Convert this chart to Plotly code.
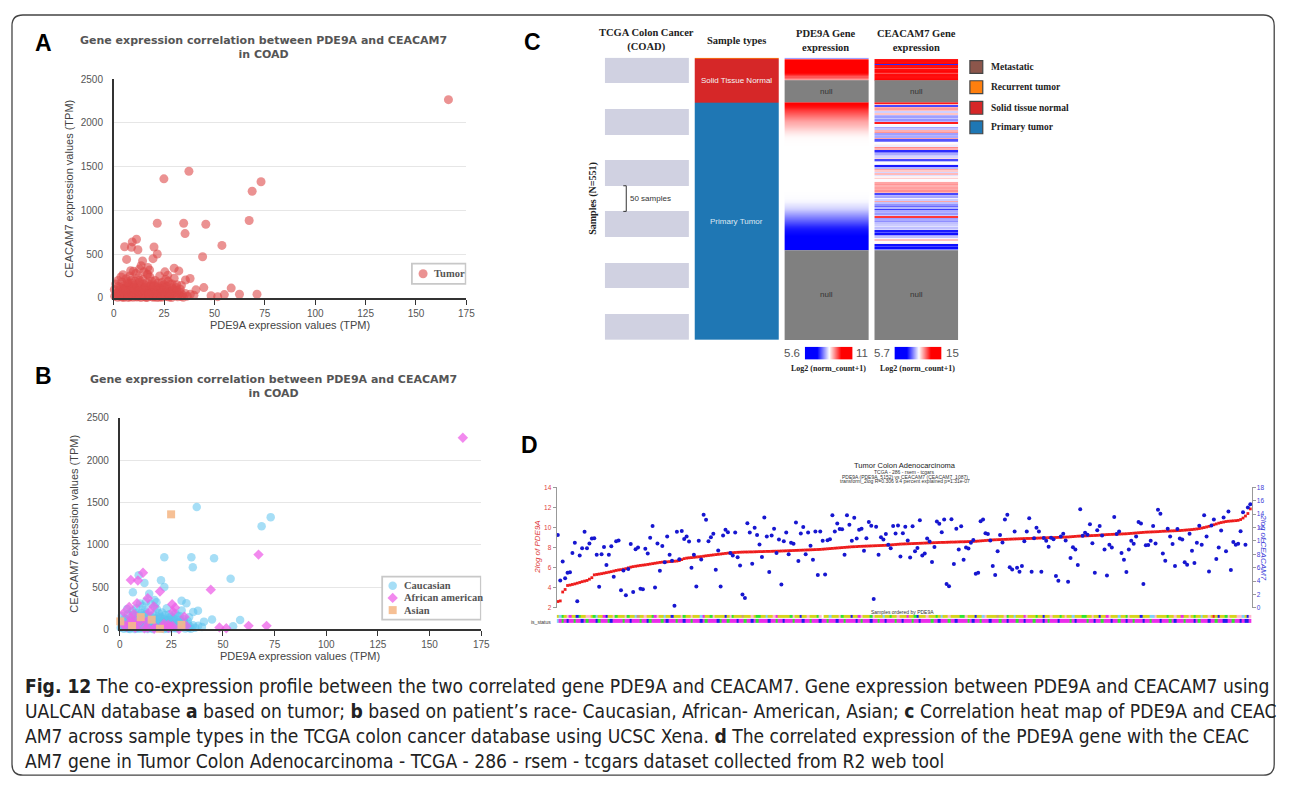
import plotly.graph_objects as go

# page size and the default 8px body margin of the html page
W, H = 1292, 789
OFF = 8
FW, FH = W - 2 * OFF, H - 2 * OFF
SANS = "Liberation Sans, Arial, Helvetica, sans-serif"
SERIF = "Liberation Serif, Times New Roman, serif"
VERD = "DejaVu Sans, Verdana, sans-serif"
CAPF = "DejaVu Sans Condensed, Open Sans, sans-serif"

# ============================ DATA ============================
# Panels A & B : UALCAN TCGA-COAD tumour samples (TPM)
pde9a_tpm = [
    166.1, 24.9, 37.3, 73.1, 68.7, 67.2, 21.6, 34.7, 45.7, 35.4,
    53.7, 44.1, 11.3, 9.2, 5.4, 8.8, 12.0, 20.0, 21.6, 19.5,
    6.4, 14.3, 13.6, 12.8, 16.9, 8.4, 9.8, 4.6, 25.4, 30.0,
    32.3, 26.8, 16.5, 30.0, 35.6, 37.9, 16.9, 44.7, 58.3, 62.4,
    71.1, 48.3, 51.6, 54.9, 40.8, 39.8, 33.6, 31.3,
    0.5, 1.2, 2.0, 2.8, 3.5, 4.1, 4.8, 5.5, 6.0, 6.7,
    7.3, 7.9, 8.5, 9.0, 9.6, 10.2, 10.8, 11.4, 12.0, 12.6,
    13.2, 13.8, 14.4, 15.0, 15.5, 16.1, 16.7, 17.3, 17.9, 18.5,
    19.1, 19.5, 20.3, 20.9, 21.5, 22.1, 22.7, 23.3, 23.9, 24.5,
    25.1, 25.7, 26.3, 26.9, 27.5, 28.1, 28.7, 29.3, 29.9, 30.5,
    31.1, 31.7, 32.3, 32.9, 33.5, 34.1, 0.3, 1.0, 1.8, 2.5,
    3.2, 3.9, 4.5, 5.1, 5.8, 6.4, 7.0, 7.6, 8.2, 8.8,
    9.4, 10.0, 10.6, 11.2, 11.8, 12.4, 13.0, 13.6, 14.2, 14.8,
    15.4, 16.0, 16.6, 17.2, 17.8, 18.4, 19.0, 19.6, 20.2, 20.8,
    21.4, 22.0, 22.6, 23.2, 23.8, 24.4, 25.0, 25.6, 26.2, 26.8,
    27.4, 28.0, 28.6, 29.2, 30.2, 31.5, 33.0, 34.5, 35.5, 36.5,
    38.0, 5.0, 7.5, 9.5, 11.5, 13.5, 15.5, 17.5, 19.5, 21.5,
    23.5, 2.2, 6.2, 8.0, 10.5, 12.2, 14.5, 18.0, 20.5, 24.0,
    27.0, 15.0, 17.8, 11.0, 22.8, 4.0,
    1.5, 3.0, 4.4, 5.9, 7.1, 8.6, 10.1, 11.6, 13.1, 14.6,
    16.1, 17.6, 19.1, 20.6, 22.1, 23.6, 25.1, 26.6, 28.1, 29.6,
    2.4, 4.9, 7.4, 9.9, 12.4, 14.9, 17.4, 19.9, 22.4, 24.9,
    27.4, 31.0, 6.8, 9.3, 12.9, 16.4, 19.8, 3.6, 25.8, 29.0,
]
ceacam7_tpm = [
    2265, 1360, 1447, 1327, 1218, 884, 853, 853, 841, 735,
    600, 470, 670, 640, 584, 578, 550, 582, 502, 448,
    440, 422, 368, 330, 348, 310, 305, 265, 298, 340,
    308, 258, 272, 225, 205, 222, 268, 118, 112, 42,
    42, 24, 14, 38, 92, 30, 143, 150,
    20, 45, 8, 90, 30, 62, 15, 110, 40, 75,
    5, 130, 55, 22, 95, 145, 35, 68, 12, 180,
    48, 88, 25, 120, 115, 60, 8, 100, 40, 150,
    18, 8, 72, 30, 125, 50, 10, 85, 140, 35,
    62, 15, 100, 45, 20, 78, 5, 55, 54, 28,
    90, 12, 40, 65, 18, 35, 95, 160, 55, 25,
    120, 10, 70, 140, 25, 170, 48, 95, 15, 200,
    60, 30, 110, 10, 85, 42, 135, 20, 70, 160,
    38, 5, 90, 28, 130, 58, 190, 45, 12, 100,
    65, 170, 28, 110, 8, 75, 150, 40, 130, 70,
    10, 160, 38, 115, 80, 60, 100, 8, 50, 20,
    42, 5, 18, 8, 40, 5, 15, 75, 95, 5,
    55, 200, 220, 250, 190, 230, 210, 240, 200, 180,
    190, 300, 320, 280, 250, 180,
    60, 35, 105, 80, 28, 112, 70, 125, 95, 50,
    140, 22, 62, 38, 92, 20, 118, 58, 30, 95,
    130, 88, 160, 118, 75, 92, 45, 150, 108, 85,
    48, 120, 185, 165, 200, 175, 130, 240, 210, 160,
]
# C = Caucasian, A = African american, S = Asian
race_code = list(
    "ASCCCACCCC" "CAACAACCCA" "CCACCACAAC" "CAACCCCCCA" "AAACCCCA"
    "CCCCACCCSC" "CCACCSCCAC" "CCCCSCACCC" "CSCACCCCCA" "CCCCCCACSC"
    "CCACCCSCAC" "CCCACCCACC" "CCACCCCACC" "CCCACCCCCC" "ACCCCCCACC"
    "CCCCCCCCCC" "CCACCCCCCC" "AACCCCACCC" "CCCCCC"
    "CCCACCCCAC" "CCCCCACCCC" "CACCCCCCCC" "CCACCCCCAC"
)
race_order = ["C", "A", "S"]
race_labels = {"C": "Caucasian", "A": "African american", "S": "Asian"}
tick_x_ab = [0, 25, 50, 75, 100, 125, 150, 175]
tick_y_ab = [0, 500, 1000, 1500, 2000, 2500]

# Panel C : UCSC Xena heat map (TCGA COAD, N = 551)
sample_type_names = ["Metastatic", "Recurrent tumor", "Solid tissue normal", "Primary tumor"]
sample_type_colors = ["#8c564b", "#ff7f0e", "#d62728", "#1f77b4"]
sample_type_counts = [0, 1, 86, 464]
n_samples = 551
block_samples = 50
pde9a_scale = [5.6, 11.0]
ceacam7_scale = [5.7, 15.0]
normal_with_values = 44
tumor_with_values = 288
pde9a_normal = [7.3, 10.2, 11.0, 11.0, 11.0, 11.0, 11.0, 11.0, 11.0, 11.0, 11.0,
                11.0, 11.0, 11.0, 11.0, 10.9, 10.7, 10.4, 10.1, 9.8, 9.4, 9.1]
ceacam7_normal = [10.4, 14.6, 14.8, 14.8, 14.7, 14.9, 6.5, 14.8, 14.7, 14.8, 13.4,
                  14.8, 14.8, 14.9, 14.6, 13.6, 14.8, 14.8, 14.7, 14.8, 14.9, 14.8]
pde9a_tumor = [11.0, 10.8, 10.4, 10.1, 9.8, 9.5, 9.2, 9.0, 8.8, 8.6, 8.45, 8.35,
               8.32, 8.31, 8.30, 8.30, 8.30, 8.30, 8.30, 8.30, 8.30, 8.30,
               8.30, 8.30, 8.30, 8.30, 8.30, 8.30, 8.30, 8.29, 8.28, 8.26,
               8.2, 8.0, 7.8, 7.5, 7.2, 6.9, 6.6, 6.3, 6.0, 5.8, 5.7,
               5.6, 5.6, 5.6, 5.6, 5.6]
ceacam7_tumor = [
    14.5, 11.5, 7.0, 11.8, 12.2, 11.5, 9.5, 11.4, 9.0, 8.6,
    9.3, 8.4, 9.0, 14.5, 10.4, 10.2, 8.7, 9.2, 11.8, 12.3,
    8.6, 9.0, 8.8, 12.0, 7.2, 8.0, 10.3, 10.6, 10.0, 12.5,
    11.8, 6.5, 8.0, 8.8, 9.4, 9.6, 11.0, 7.0, 9.2, 10.4,
    10.0, 6.2, 9.0, 12.0, 11.3, 9.6, 11.6, 9.8, 10.6, 11.2,
    10.3, 10.5, 12.0, 12.3, 11.8, 12.1, 11.9, 12.4, 11.7, 7.0,
    9.0, 8.7, 10.1, 9.4, 12.0, 9.2, 8.4, 7.6, 9.0, 6.8,
    8.8, 9.0, 8.5, 9.4, 14.0, 8.6, 8.8, 8.3, 9.2, 9.4,
    9.8, 9.2, 9.6, 6.2, 7.4, 6.0, 8.6, 9.2, 10.2, 11.5,
    10.4, 10.6, 6.0, 7.0, 5.9, 8.0,
]

# Panel D : R2, Tumor Colon Adenocarcinoma - TCGA - 286 - rsem - tcgars
r2_pde9a = [
    2.62, 2.68, 3.57, 3.82, 4.22, 4.26, 4.32, 4.38, 4.45, 4.52,
    4.60, 4.66, 4.72, 4.85, 5.00, 5.28, 5.32, 5.36, 5.40, 5.45,
    5.50, 5.55, 5.60, 5.66, 5.72, 5.77, 5.80, 5.85, 5.90, 5.98,
    6.05, 6.10, 6.14, 6.18, 6.22, 6.25, 6.28, 6.32, 6.36, 6.40,
    6.44, 6.48, 6.52, 6.55, 6.57, 6.58, 6.60, 6.62, 6.64, 6.66,
    6.70, 6.80, 6.90, 6.95, 6.98, 7.00, 7.03, 7.06, 7.08, 7.10,
    7.14, 7.18, 7.21, 7.24, 7.27, 7.30, 7.33, 7.36, 7.39, 7.42,
    7.45, 7.47, 7.49, 7.51, 7.53, 7.54, 7.55, 7.56, 7.56, 7.57,
    7.57, 7.58, 7.59, 7.60, 7.60, 7.61, 7.62, 7.62, 7.63, 7.64,
    7.64, 7.65, 7.66, 7.67, 7.68, 7.69, 7.70, 7.71, 7.72, 7.73,
    7.74, 7.75, 7.76, 7.77, 7.78, 7.79, 7.80, 7.81, 7.82, 7.84,
    7.86, 7.88, 7.90, 7.92, 7.94, 7.96, 7.98, 8.00, 8.02, 8.04,
    8.06, 8.08, 8.09, 8.10, 8.12, 8.13, 8.14, 8.15, 8.16, 8.17,
    8.18, 8.19, 8.20, 8.21, 8.22, 8.23, 8.25, 8.27, 8.29, 8.31,
    8.33, 8.35, 8.36, 8.37, 8.38, 8.39, 8.40, 8.41, 8.42, 8.43,
    8.44, 8.45, 8.46, 8.47, 8.48, 8.49, 8.50, 8.51, 8.52, 8.52,
    8.53, 8.54, 8.55, 8.55, 8.56, 8.57, 8.58, 8.58, 8.59, 8.60,
    8.61, 8.62, 8.63, 8.65, 8.67, 8.69, 8.71, 8.73, 8.75, 8.77,
    8.78, 8.79, 8.80, 8.81, 8.82, 8.83, 8.84, 8.85, 8.86, 8.87,
    8.88, 8.89, 8.90, 8.91, 8.91, 8.92, 8.93, 8.94, 8.95, 8.96,
    8.97, 8.98, 8.99, 9.00, 9.00, 9.01, 9.02, 9.03, 9.04, 9.05,
    9.06, 9.08, 9.10, 9.12, 9.14, 9.15, 9.16, 9.17, 9.18, 9.19,
    9.20, 9.21, 9.22, 9.24, 9.26, 9.28, 9.30, 9.31, 9.32, 9.33,
    9.34, 9.35, 9.36, 9.37, 9.38, 9.40, 9.42, 9.44, 9.46, 9.48,
    9.50, 9.52, 9.54, 9.55, 9.56, 9.57, 9.58, 9.59, 9.61, 9.63,
    9.64, 9.65, 9.66, 9.67, 9.68, 9.69, 9.70, 9.72, 9.74, 9.76,
    9.78, 9.80, 9.83, 9.86, 9.90, 9.95, 10.00, 10.06, 10.12, 10.20,
    10.28, 10.36, 10.44, 10.50, 10.55, 10.60, 10.63, 10.65, 10.67, 10.69,
    10.72, 10.80, 10.95, 11.15, 11.40, 11.86,
]
r2_ceacam7 = [
    10.88, 4.09, 6.93, 4.43, 5.25, 5.30, 8.18, 9.72, 0.97, 7.80,
    8.90, 11.36, 8.90, 9.62, 10.35, 10.39, 7.94, 3.13, 7.99, 9.10,
    6.40, 7.94, 9.19, 4.62, 9.96, 10.06, 2.60, 5.58, 1.88, 5.78,
    9.53, 2.36, 8.76, 9.00, 2.84, 2.75, 8.81, 8.13, 10.49, 12.22,
    3.03, 9.62, 5.54, 9.24, 6.79, 10.68, 7.94, 7.03, 0.29, 11.36,
    7.27, 11.50, 10.30, 10.68, 9.91, 5.97, 7.94, 3.18, 10.01, 7.22,
    13.91, 13.18, 9.96, 10.54, 11.07, 5.68, 8.57, 3.18, 10.83, 11.69,
    11.31, 8.18, 7.80, 11.26, 7.56, 6.31, 1.98, 1.45, 12.66, 11.26,
    6.59, 11.98, 10.88, 9.48, 7.60, 13.52, 10.68, 5.34, 10.83, 11.84,
    8.18, 10.20, 3.47, 9.96, 11.26, 7.99, 9.72, 9.58, 12.75, 6.98,
    11.12, 12.08, 7.99, 11.26, 9.29, 7.17, 11.40, 4.91, 11.40, 10.01,
    4.96, 10.11, 10.25, 13.86, 11.40, 12.61, 11.79, 11.74, 7.94, 13.86,
    12.41, 10.01, 13.47, 10.35, 11.69, 11.84, 8.52, 10.39, 12.85, 12.27,
    1.30, 12.13, 7.94, 10.54, 10.20, 11.02, 9.43, 8.90, 12.22, 11.12,
    12.32, 7.65, 11.16, 12.13, 10.06, 7.51, 12.18, 8.47, 8.95, 13.09,
    7.80, 8.13, 10.35, 9.91, 6.83, 9.10, 12.90, 12.56, 11.31, 13.19,
    3.56, 3.22, 13.23, 6.54, 11.84, 8.71, 12.18, 7.17, 9.00, 8.85,
    9.72, 10.15, 5.10, 5.25, 12.95, 13.19, 11.16, 11.02, 10.06, 6.26,
    4.91, 8.47, 10.88, 9.77, 13.19, 13.91, 6.06, 5.73, 11.41, 5.97,
    5.39, 6.26, 9.96, 11.41, 13.38, 5.39, 10.39, 11.98, 11.41, 5.39,
    10.44, 10.01, 9.14, 10.49, 10.25, 4.76, 4.04, 10.68, 11.07, 10.06,
    3.90, 7.46, 9.05, 8.71, 6.40, 14.73, 10.78, 11.21, 10.92, 12.51,
    9.67, 5.25, 11.60, 12.22, 10.83, 8.71, 4.81, 9.43, 9.00, 13.57,
    11.02, 11.41, 8.18, 7.17, 5.34, 8.71, 10.01, 9.58, 10.68, 12.85,
    12.61, 3.56, 9.34, 9.38, 10.01, 12.22, 9.62, 14.68, 14.05, 8.13,
    7.03, 11.84, 10.68, 9.53, 6.26, 11.79, 10.35, 10.20, 6.79, 6.45,
    11.07, 8.52, 6.69, 9.72, 12.27, 9.43, 13.86, 10.68, 5.44, 12.32,
    13.19, 7.31, 9.00, 11.55, 13.52, 8.47, 14.39, 5.63, 9.82, 9.43,
    9.58, 11.45, 14.29, 9.43, 15.01, 15.50,
]
status_top = (
    "ycgypmyybgyyppygcyymbyypgy" "yypgyyctyypyygmpyycyybyyyp" "gyypyyycmyygpyyyybypgyyyty"
    "yypyggyycyypmyyyyygpyybyyp" "yyygpwyycyyypgyyybyympyyyg" "pyyycyygyypyyymyygbyyypyyy"
    "gycyypyyyyggpyyybyycpyyyyt" "yypgyycyyympyyygyybyypyyyg" "ypyycyyyggyypyybyympyyycyy"
    "gpyyyybyyyccpyyyygyypyymyy" "pygyycyypyrybyygpyyyppcybp"
)
status_bottom = (
    "cmgmbmmgmmbmgmmmbgmmmgbmmm" "mgmmbmmmgmmbgmmmmgmbmmmgmm" "bmmgmmmbmgmmmmbgmmgmmmbmmg"
    "mmbmgmmmmbmmgmmbmmmgmmmbmm" "gmmmbmmgmmmbmmgmmmmbmgmmmb" "mmgmmbmmmgmmbmmmgmmbmmmmgm"
    "mbmmmgmmbmmmmgmbmmgmmmbmmm" "gmmbmmmgmmbmmmgmmmbmgmmmbm" "mmmgmbmmmmgmmbmmgmmmbmmgmm"
    "bmmgmmmbmmgmmmbmmmgmbmmmgm" "mmbmgmmmbmmgmmbbmmgmmbmbbm"
)
status_codes = "ycgpmbwtr"
status_colors = ["#d6d41c", "#80d0f8", "#2ee52e", "#ffb8c8", "#ea2aea",
                 "#1c1cec", "#ffffff", "#c8a078", "#ec2222"]

caption_lines = [
    "<b>Fig. 12</b> The co-expression profile between the two correlated gene PDE9A and CEACAM7. Gene expression between PDE9A and CEACAM7 using",
    "UALCAN database <b>a</b> based on tumor; <b>b</b> based on patient’s race- Caucasian, African- American, Asian; <b>c</b> Correlation heat map of PDE9A and CEAC",
    "AM7 across sample types in the TCGA colon cancer database using UCSC Xena. <b>d</b> The correlated expression of the PDE9A gene with the CEAC",
    "AM7 gene in Tumor Colon Adenocarcinoma - TCGA - 286 - rsem - tcgars dataset collected from R2 web tool",
]

# ============================ LAYOUT HELPERS ============================
# all positions below are page pixels; the figure itself starts at (OFF, OFF)
def X(px):
    return (px - OFF) / FW


def Y(py):
    return 1 - (py - OFF) / FH


def txt(px, py, text, size, color="#333", family=SANS, xanchor="center", angle=0):
    return dict(x=px, y=py, xref="x9", yref="y9", text=text, showarrow=False,
                font=dict(family=family, size=size, color=color),
                xanchor=xanchor, yanchor="middle", textangle=angle)


annotations = []
shapes = []
fig = go.Figure()

# ---------------- Panels A & B ----------------
A_L, A_R, A_T, A_B = 111.7, 467.7, 74.0, 296.0
B_L, B_R, B_T, B_B = 117.7, 482.7, 417.7, 632.3
XMAX, YMAX = tick_x_ab[-1], tick_y_ab[-1]


def pa(px, py):
    return (px - A_L) / (A_R - A_L) * XMAX, (A_B - py) / (A_B - A_T) * YMAX


def pb(px, py):
    return (px - B_L) / (B_R - B_L) * XMAX, (B_B - py) / (B_B - B_T) * YMAX


tumor_marker = dict(symbol="circle", size=9, color="#de4a4a", opacity=0.6, line=dict(width=0))
race_marker = {
    "C": dict(symbol="circle", size=8.5, color="#5cc2ee", opacity=0.55, line=dict(width=0)),
    "A": dict(symbol="diamond", size=8, color="#ee62e8", opacity=0.75, line=dict(width=0)),
    "S": dict(symbol="square", size=8, color="#f5b98a", opacity=0.9, line=dict(width=0)),
}

fig.add_trace(go.Scatter(x=pde9a_tpm, y=ceacam7_tpm, mode="markers", marker=tumor_marker,
                         cliponaxis=False, name="Tumor", xaxis="x", yaxis="y"))
for r in race_order:
    xs = [x for x, c in zip(pde9a_tpm, race_code) if c == r]
    ys = [y for y, c in zip(ceacam7_tpm, race_code) if c == r]
    fig.add_trace(go.Scatter(x=xs, y=ys, mode="markers", marker=race_marker[r], cliponaxis=False,
                             name=race_labels[r], xaxis="x2", yaxis="y2"))

# legend boxes (drawn between gridlines and traces)
ax0, ay0 = pa(412.7, 281.7)
ax1, ay1 = pa(467.0, 261.3)
shapes.append(dict(type="rect", xref="x", yref="y", x0=ax0, x1=ax1, y0=ay0, y1=ay1,
                   fillcolor="white", line=dict(color="#c8c8c8", width=1.8), layer="between"))
lx, ly = pa(424.0, 271.5)
fig.add_trace(go.Scatter(x=[lx], y=[ly], mode="markers", marker=tumor_marker, cliponaxis=False,
                         showlegend=False, hoverinfo="skip", xaxis="x", yaxis="y"))
annotations.append(txt(432.5, 271.5, "<b>Tumor</b>", 10.5, "#555", SERIF, "left"))

bx0, by0 = pb(382.7, 622.3)
bx1, by1 = pb(482.3, 578.7)
shapes.append(dict(type="rect", xref="x2", yref="y2", x0=bx0, x1=bx1, y0=by0, y1=by1,
                   fillcolor="white", line=dict(color="#c8c8c8", width=1.8), layer="between"))
for i, r in enumerate(race_order):
    py = 588.0 + i * 12.35
    mx, my = pb(393.3, py)
    fig.add_trace(go.Scatter(x=[mx], y=[my], mode="markers", marker=race_marker[r], cliponaxis=False,
                             showlegend=False, hoverinfo="skip", xaxis="x2", yaxis="y2"))
    annotations.append(txt(402.5, py, "<b>" + race_labels[r] + "</b>", 10.5, "#555", SERIF, "left"))

ttl = "<b>Gene expression correlation between PDE9A and CEACAM7<br>in COAD</b>"
annotations.append(txt(263.3, 41.5, ttl, 11, "#555", VERD))
annotations.append(txt(272.7, 386.3, ttl, 11, "#555", VERD))
annotations.append(txt(290, 323.3, "PDE9A expression values (TPM)", 11, "#444"))
annotations.append(txt(66.7, 185, "CEACAM7 expression values (TPM)", 11, "#444", angle=-90))
annotations.append(txt(300, 659, "PDE9A expression values (TPM)", 11, "#444"))
annotations.append(txt(71.7, 525, "CEACAM7 expression values (TPM)", 11, "#444", angle=-90))

# ---------------- Panel C ----------------
COLW = 0.93


def col_edges(k, n=1):
    return [k + COLW * j / n for j in range(n + 1)]


# scale blocks (50 samples each)
blk_edges = list(range(0, n_samples, block_samples))
blk_z = [[1] if i % 2 == 0 else [None] for i in range(len(blk_edges) - 1)]
fig.add_trace(go.Heatmap(x=col_edges(0), y=blk_edges, z=blk_z, colorscale=[[0, "#d0d1e1"], [1, "#d0d1e1"]],
                         showscale=False, hoverinfo="skip", xaxis="x3", yaxis="y3"))

# sample types
st_edges, st_z, acc = [0], [], 0
for i, c in enumerate(sample_type_counts):
    if c > 0:
        acc += c
        st_edges.append(acc)
        st_z.append([i + 0.5])
nst = len(sample_type_colors)
st_cs = []
for i, col in enumerate(sample_type_colors):
    st_cs += [[i / nst, col], [(i + 1) / nst, col]]
fig.add_trace(go.Heatmap(x=col_edges(1), y=st_edges, z=st_z, zmin=0, zmax=nst, colorscale=st_cs,
                         showscale=False, hoverinfo="skip", xaxis="x3", yaxis="y3"))

tumor_start = sample_type_counts[0] + sample_type_counts[1] + sample_type_counts[2]
tumor_end = tumor_start + tumor_with_values
BWR = [[0, "#0000ff"], [0.5, "#ffffff"], [1, "#ff0000"]]

for k, (nvals, tvals, scl, smooth) in enumerate([(pde9a_normal, pde9a_tumor, pde9a_scale, "best"),
                                                  (ceacam7_normal, ceacam7_tumor, ceacam7_scale, False)]):
    col = 2 + k
    nr = normal_with_values / len(nvals)
    fig.add_trace(go.Heatmap(x=col_edges(col), y=[i * nr for i in range(len(nvals) + 1)],
                             z=[[v] for v in nvals], zmin=scl[0], zmax=scl[1], colorscale=BWR,
                             showscale=False, hoverinfo="skip", xaxis="x3", yaxis="y3"))
    tr = tumor_with_values / len(tvals)
    fig.add_trace(go.Heatmap(x=col_edges(col, 2), y=[tumor_start + i * tr for i in range(len(tvals) + 1)],
                             z=[[v, v] for v in tvals], zmin=scl[0], zmax=scl[1], colorscale=BWR,
                             zsmooth=smooth, showscale=False, hoverinfo="skip", xaxis="x3", yaxis="y3"))
    fig.add_trace(go.Heatmap(x=col_edges(col), y=[normal_with_values, tumor_start, tumor_end, n_samples],
                             z=[[1], [None], [1]], colorscale=[[0, "#808080"], [1, "#808080"]],
                             showscale=False, hoverinfo="skip", xaxis="x3", yaxis="y3"))
    for yy in [(normal_with_values + tumor_start) / 2, (tumor_end + n_samples) / 2]:
        annotations.append(dict(x=col + COLW / 2, y=yy, xref="x3", yref="y3", text="null", showarrow=False,
                                xanchor="center", yanchor="middle",
                                font=dict(family=SANS, size=8, color="#333")))

annotations.append(dict(x=1 + COLW / 2, y=sample_type_counts[1] + sample_type_counts[2] / 2, xref="x3", yref="y3",
                        text="Solid Tissue Normal", showarrow=False, xanchor="center", yanchor="middle",
                        font=dict(family=SANS, size=8, color="#f4f4f4")))
annotations.append(dict(x=1 + COLW / 2, y=tumor_start + sample_type_counts[3] / 2, xref="x3", yref="y3",
                        text="Primary Tumor", showarrow=False, xanchor="center", yanchor="middle",
                        font=dict(family=SANS, size=8, color="#dde8f2")))
# 50-sample bracket
fig.add_trace(go.Scatter(x=[0.205, 0.238, 0.238, 0.205], y=[250, 250, 300, 300], mode="lines",
                         line=dict(color="#333", width=1), hoverinfo="skip", showlegend=False,
                         xaxis="x3", yaxis="y3"))
annotations.append(dict(x=0.255, y=275, xref="x3", yref="y3", text="50 samples", showarrow=False,
                        xanchor="left", yanchor="middle", font=dict(family=SANS, size=8, color="#333")))

headers = ["<b>TCGA Colon Cancer<br>(COAD)</b>", "<b>Sample types</b>",
           "<b>PDE9A Gene<br>expression</b>", "<b>CEACAM7 Gene<br>expression</b>"]
for k, htxt in enumerate(headers):
    annotations.append(dict(x=k + COLW / 2, y=Y(34.5), xref="x3", yref="paper", text=htxt, showarrow=False,
                            xanchor="center", yanchor="middle",
                            font=dict(family=SERIF, size=10.5, color="#222")))
annotations.append(txt(596, 195, "<b>Samples (N=551)</b>", 10, "#222", SERIF, angle=-90))

# legend for sample types
leg_py = [61.7, 82.2, 103.2, 123.0]
for name, colr, py in zip(sample_type_names, sample_type_colors, leg_py):
    shapes.append(dict(type="rect", xref="x9", yref="y9", x0=976, x1=989, y0=py - 6.5, y1=py + 6.5,
                       fillcolor=colr, line=dict(color="#444", width=1.2), layer="above"))
    annotations.append(txt(995, py, "<b>" + name + "</b>", 9.5, "#222", SERIF, "left"))

# colour bars
for ax_id, scl in [("4", pde9a_scale), ("5", ceacam7_scale)]:
    fig.add_trace(go.Heatmap(x=[0, 1], y=[0], z=[[scl[0], scl[1]]], zmin=scl[0], zmax=scl[1], colorscale=BWR,
                             zsmooth="best", showscale=False, hoverinfo="skip",
                             xaxis="x" + ax_id, yaxis="y" + ax_id))
annotations.append(txt(806, 352, "5.6", 11.5, "#555", SANS, "right"))
annotations.append(txt(859.5, 352, "11", 11.5, "#555", SANS, "left"))
annotations.append(txt(897.5, 352, "5.7", 11.5, "#555", SANS, "right"))
annotations.append(txt(950, 352, "15", 11.5, "#555", SANS, "left"))
annotations.append(txt(833, 367.7, "<b>Log2 (norm_count+1)</b>", 8, "#222", SERIF))
annotations.append(txt(923, 367.7, "<b>Log2 (norm_count+1)</b>", 8, "#222", SERIF))

# ---------------- Panel D ----------------
idx = list(range(1, len(r2_pde9a) + 1))
fig.add_trace(go.Scatter(x=idx, y=r2_pde9a, mode="markers", name="PDE9A",
                         marker=dict(symbol="square", size=2.8, color="#ee1c1c", line=dict(width=0)),
                         xaxis="x6", yaxis="y6", cliponaxis=False))
fig.add_trace(go.Scatter(x=idx, y=r2_ceacam7, mode="markers", name="CEACAM7",
                         marker=dict(symbol="circle", size=4, color="#1616d0", line=dict(width=0)),
                         xaxis="x6", yaxis="y7", cliponaxis=False))
ns = len(status_colors)
stat_cs = []
for i, col in enumerate(status_colors):
    stat_cs += [[i / ns, col], [(i + 1) / ns, col]]
z_strip = [[status_codes.index(ch) + 0.5 for ch in status_bottom],
           [status_codes.index(ch) + 0.5 for ch in status_top]]
fig.add_trace(go.Heatmap(x=list(range(1, len(status_top) + 1)), y=[0, 1], z=z_strip, zmin=0, zmax=ns,
                         colorscale=stat_cs, ygap=1, showscale=False, hoverinfo="skip",
                         xaxis="x8", yaxis="y8"))

annotations.append(txt(910, 466.5, "Tumor Colon Adenocarcinoma", 7.5, "#222"))
annotations.append(txt(910, 472.3, "TCGA - 286 - rsem - tcgars", 5, "#333"))
annotations.append(txt(910, 477.2, "PDE9A (PDE9A_5152) vs CEACAM7 (CEACAM7_1087)", 5, "#333"))
annotations.append(txt(910, 482.1, "transform_2log R=0.306 9.4 percent explained p=1.31e-07", 5, "#333"))
annotations.append(txt(908, 614.3, "Samples ordered by PDE9A", 5, "#333"))
annotations.append(txt(555, 624.3, "is_status", 5, "#333", SANS, "right"))
annotations.append(txt(539.5, 549, "<i>2log of PDE9A</i>", 8, "#e03c3c", angle=-90))
annotations.append(txt(1273, 549, "<i>2log of CEACAM7</i>", 8, "#3c3cd8", angle=90))

# ---------------- panel letters, caption, frame ----------------
for lt, px, py in [("A", 41.0, 37.5), ("B", 41.0, 375), ("C", 534.7, 36.7), ("D", 531, 445)]:
    annotations.append(txt(px, py, "<b>" + lt + "</b>", 23, "#000", SANS))
for i, line in enumerate(caption_lines):
    annotations.append(txt(20, 690 + i * 25.3, line, 19.1, "#222", CAPF, "left"))

r = 11
L, T, R, B = 9, 9, OFF + FW - 0.8, OFF + FH - 0.8
frame = (f"M {L + r},{T} L {R - r},{T} Q {R},{T} {R},{T + r} L {R},{B - r} Q {R},{B} {R - r},{B} "
         f"L {L + r},{B} Q {L},{B} {L},{B - r} L {L},{T + r} Q {L},{T} {L + r},{T} Z")
shapes.append(dict(type="path", xref="x9", yref="y9", path=frame, line=dict(color="#444", width=1.3),
                   layer="above"))

# ---------------- axes ----------------
tickf = dict(family=SANS, size=10, color="#555")
ab_x = dict(range=[0, XMAX], tickvals=tick_x_ab, ticks="outside", ticklen=5, tickcolor="#333",
            showline=True, linecolor="#333", linewidth=1.5, showgrid=False, zeroline=False, tickfont=tickf,
            fixedrange=True)
ab_y = dict(range=[0, YMAX], tickvals=tick_y_ab, ticks="", showline=True, linecolor="#333", linewidth=1.5,
            showgrid=True, gridcolor="#e6e6e6", gridwidth=1, zeroline=False, tickfont=tickf,
            ticklabelstandoff=7, fixedrange=True)
hidden = dict(visible=False, fixedrange=True)
d_y = dict(ticks="outside", ticklen=3, tickcolor="#999", showline=True, linecolor="#999", linewidth=1,
           showgrid=False, zeroline=False, fixedrange=True)

fig.update_layout(
    width=FW, height=FH, margin=dict(l=0, r=0, t=0, b=0),
    paper_bgcolor="white", plot_bgcolor="rgba(0,0,0,0)", showlegend=False,
    xaxis=dict(ab_x, domain=[X(A_L), X(A_R)], anchor="y"),
    yaxis=dict(ab_y, domain=[Y(A_B), Y(A_T)], anchor="x"),
    xaxis2=dict(ab_x, domain=[X(B_L), X(B_R)], anchor="y2"),
    yaxis2=dict(ab_y, domain=[Y(B_B), Y(B_T)], anchor="x2"),
    xaxis3=dict(hidden, domain=[X(607.5), X(964.1)], range=[0, 3 + COLW], anchor="y3"),
    yaxis3=dict(hidden, domain=[Y(338.7), Y(52.3)], range=[n_samples, 0], anchor="x3"),
    xaxis4=dict(hidden, domain=[X(809.3), X(857.5)], range=[-0.5, 1.5], anchor="y4"),
    yaxis4=dict(hidden, domain=[Y(358.5), Y(345.5)], range=[-0.5, 0.5], anchor="x4"),
    xaxis5=dict(hidden, domain=[X(899.8), X(947.6)], range=[-0.5, 1.5], anchor="y5"),
    yaxis5=dict(hidden, domain=[Y(358.5), Y(345.5)], range=[-0.5, 0.5], anchor="x5"),
    xaxis6=dict(hidden, domain=[X(558.8), X(1260.3)], range=[0.5, len(r2_pde9a) + 0.5], anchor="y6"),
    yaxis6=dict(d_y, domain=[Y(610.3), Y(488.3)], range=[2, 14], dtick=2, anchor="x6",
                tickfont=dict(family=SANS, size=6.5, color="#e03c3c")),
    yaxis7=dict(d_y, overlaying="y6", side="right", anchor="x6", range=[0, 18], dtick=2,
                tickfont=dict(family=SANS, size=6.5, color="#3c3cd8")),
    xaxis8=dict(hidden, domain=[X(558.8), X(1260.3)], range=[0.5, len(status_top) + 0.5], anchor="y8"),
    yaxis8=dict(hidden, domain=[Y(626.5), Y(617.5)], range=[-0.5, 1.5], anchor="x8"),
    xaxis9=dict(hidden, domain=[0, 1], range=[OFF, OFF + FW], anchor="y9"),
    yaxis9=dict(hidden, domain=[0, 1], range=[OFF + FH, OFF], anchor="x9"),
    annotations=annotations, shapes=shapes,
)

fig.write_html("out.html", config={"displayModeBar": False})
